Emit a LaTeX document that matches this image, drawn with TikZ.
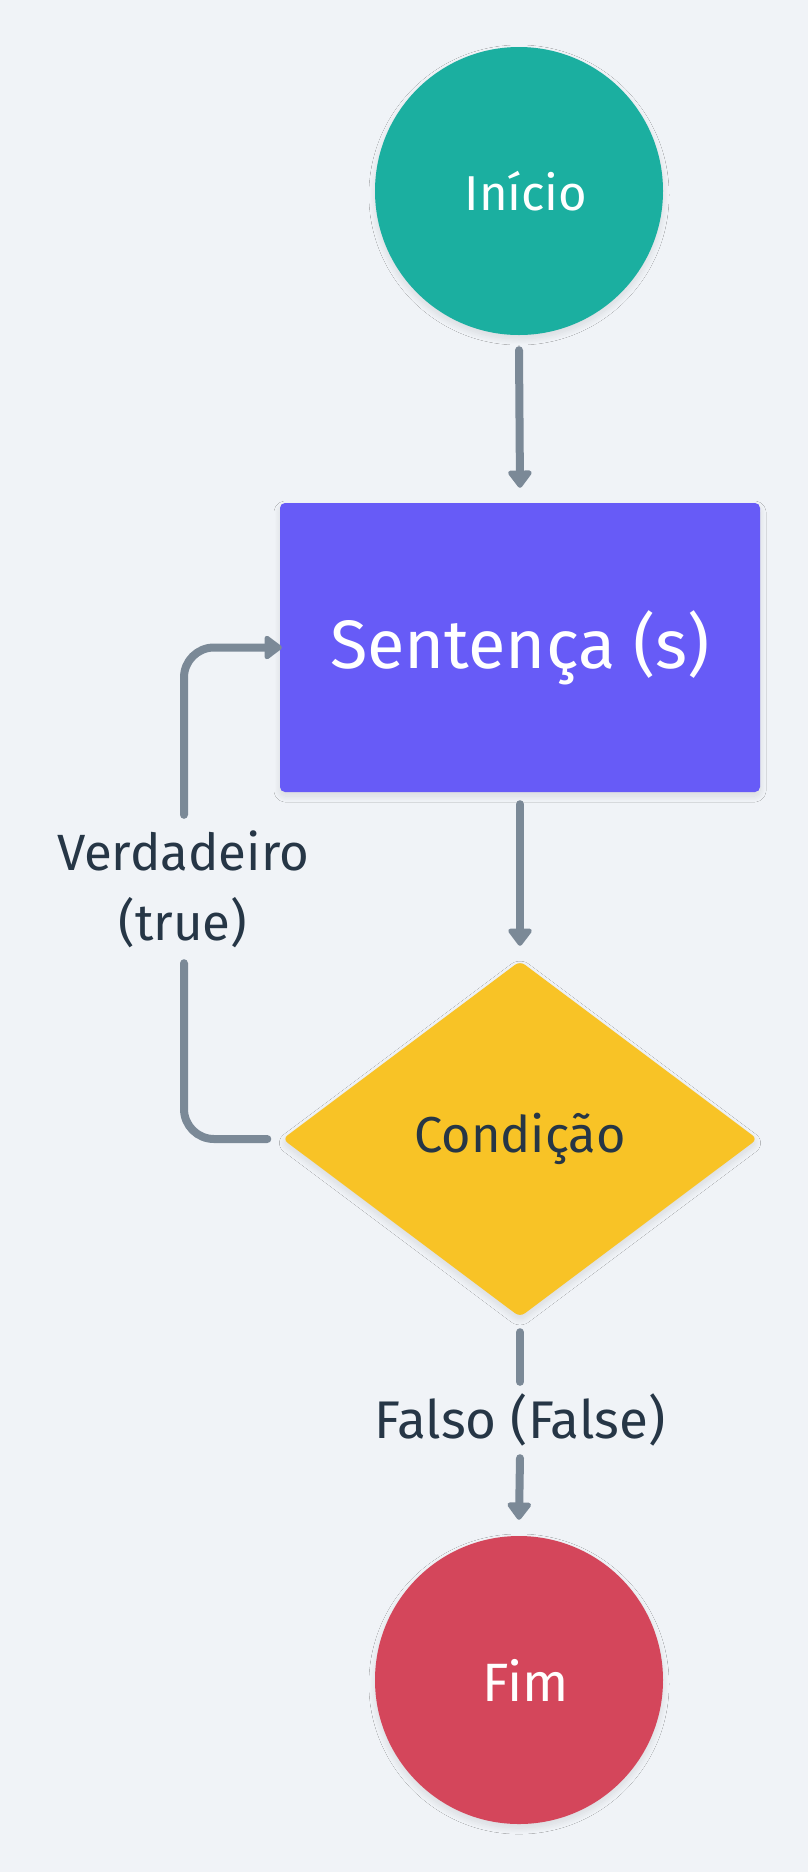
\documentclass[tikz,border=0pt]{standalone}
\usepackage{fontspec}
\setmainfont{Fira Sans}
\usetikzlibrary{arrows.meta,shapes.geometric,shadows.blur}
\definecolor{bgc}{HTML}{F0F3F7}
\definecolor{tealc}{HTML}{1BAFA0}
\definecolor{purplec}{HTML}{675BF7}
\definecolor{yellowc}{HTML}{F8C326}
\definecolor{redc}{HTML}{D4465B}
\definecolor{linec}{HTML}{7B8997}
\definecolor{textc}{HTML}{263646}
\newcommand{\lowered}[1]{\raisebox{-6pt}{#1}}
\tikzset{
  shd/.style={blur shadow={shadow xshift=0pt,shadow yshift=-4pt,shadow blur radius=6pt,shadow blur steps=24,shadow opacity=10,shadow blur extra rounding=0pt}},
  termbox/.style={circle,minimum size=288pt,inner sep=0pt,text=white,shd},
  stmtbox/.style={rectangle,rounded corners=5pt,minimum width=480pt,minimum height=289pt,inner sep=0pt,fill=purplec,text=white,font=\fontsize{68.5}{80}\selectfont,shd},
  condbox/.style={diamond,rounded corners=6pt,minimum width=475pt,minimum height=356pt,inner sep=0pt,fill=yellowc,text=textc,font=\fontsize{50.5}{60}\selectfont,shd},
  lbl/.style={inner sep=0pt,text=textc,align=center},
  conn/.style={draw=linec,line width=8pt,line cap=round,line join=round},
  arr/.style={conn,-{Triangle[width=27pt,length=19pt,round]}}
}
\begin{document}
\begin{tikzpicture}[x=1pt,y=-1pt]
\fill[bgc] (0,0) rectangle (808,1872);
\useasboundingbox (0,0) rectangle (808,1872);
\node[termbox,fill=tealc,font=\fontsize{49}{58}\selectfont] (inicio) at (519,191) {\hspace*{14pt}\lowered{Início}};
\node[stmtbox] (sent) at (520,647.5) {\lowered{Sentença (s)}};
\node[condbox] (cond) at (520,1139) {\lowered{Condição}};
\node[termbox,fill=redc,font=\fontsize{54}{62}\selectfont] (fim) at (519,1680) {\hspace*{14pt}\lowered{Fim}};
\node[lbl,minimum height=76pt,font=\fontsize{53}{70}\selectfont] (falso) at (520,1420) {Falso (False)};
\node[lbl,minimum height=148pt,font=\fontsize{51}{70}\selectfont] (verd) at (183,889) {Verdadeiro\\(true)};
\draw[arr] ([yshift=-15pt]inicio.south) -- ([yshift=15pt]sent.north);
\draw[arr] ([yshift=-12pt]sent.south) -- ([yshift=15pt]cond.north);
\draw[conn] ([yshift=-15pt]cond.south) -- (falso.north);
\draw[arr] (falso.south) -- ([yshift=16pt]fim.north);
\draw[conn,rounded corners=30pt] ([xshift=-15pt]cond.west) -| ([xshift=1pt]verd.south);
\draw[arr,rounded corners=30pt] ([xshift=1pt]verd.north) |- ([xshift=2pt]sent.west);
\end{tikzpicture}
\end{document}
